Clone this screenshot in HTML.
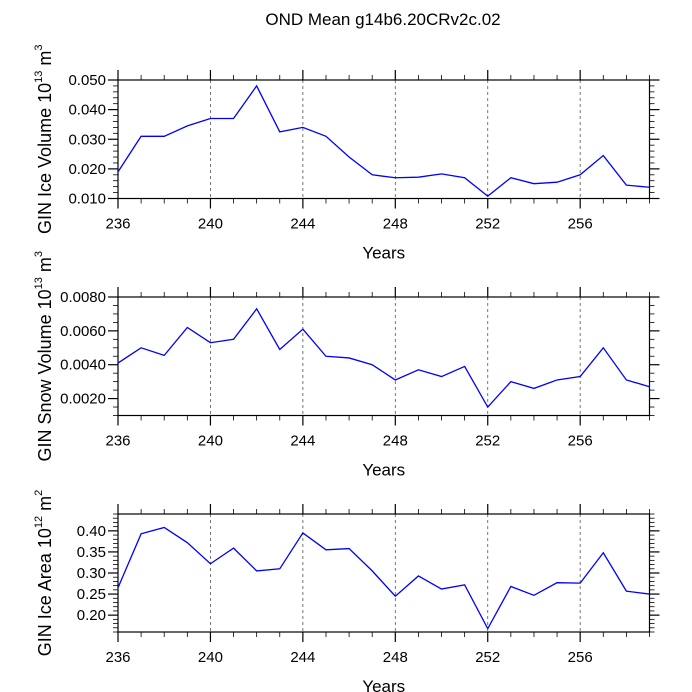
<!DOCTYPE html>
<html><head><meta charset="utf-8"><style>
html,body{margin:0;padding:0;background:#fff;}
svg{display:block;font-family:"Liberation Sans",Arial,sans-serif;}
</style></head><body>
<svg id="chart" width="692" height="692" viewBox="0 0 692 692" xmlns="http://www.w3.org/2000/svg">
<text x="383" y="25" font-size="17" text-anchor="middle">OND Mean g14b6.20CRv2c.02</text>
</svg>
<script>
const years = [236,237,238,239,240,241,242,243,244,245,246,247,248,249,250,251,252,253,254,255,256,257,258,259];
const iceVolume = [0.019,0.031,0.031,0.0345,0.037,0.037,0.048,0.0325,0.034,0.031,0.024,0.018,0.017,0.0172,0.0183,0.017,0.0108,0.017,0.015,0.0155,0.018,0.0245,0.0145,0.0138];
const snowVolume = [0.0041,0.0050,0.00455,0.0062,0.0053,0.0055,0.0073,0.0049,0.0061,0.0045,0.0044,0.0040,0.0031,0.0037,0.0033,0.0039,0.0015,0.0030,0.0026,0.0031,0.0033,0.0050,0.0031,0.0027];
const iceArea = [0.265,0.393,0.408,0.372,0.322,0.359,0.305,0.310,0.395,0.355,0.358,0.305,0.245,0.293,0.262,0.272,0.168,0.268,0.247,0.277,0.276,0.348,0.257,0.250];
const xTickLabels = ["236","240","244","248","252","256"];
const iceVolumeTicks = ["0.010","0.020","0.030","0.040","0.050"];
const snowVolumeTicks = ["0.0020","0.0040","0.0060","0.0080"];
const iceAreaTicks = ["0.20","0.25","0.30","0.35","0.40"];

const NS="http://www.w3.org/2000/svg";
const svg=document.getElementById('chart');
const L=118,R=649.5,X0=236,X1=259;
function xs(v){return L+(v-X0)/(X1-X0)*(R-L);}
function mk(tag,attrs,parent){const e=document.createElementNS(NS,tag);for(const k in attrs)e.setAttribute(k,attrs[k]);(parent||svg).appendChild(e);return e;}

const panels=[
 {key:'ice-volume',top:80,bot:198.5,ymin:0.01,ymax:0.05,minor:0.002,vals:iceVolume,ticks:iceVolumeTicks,t1:"GIN Ice Volume 10",sup:"13",t2:" m",sup2:"3"},
 {key:'snow-volume',top:297,bot:415.5,ymin:0.001,ymax:0.008,minor:0.0005,vals:snowVolume,ticks:snowVolumeTicks,t1:"GIN Snow Volume 10",sup:"13",t2:" m",sup2:"3"},
 {key:'ice-area',top:514,bot:632,ymin:0.16,ymax:0.44,minor:0.01,vals:iceArea,ticks:iceAreaTicks,t1:"GIN Ice Area 10",sup:"12",t2:" m",sup2:"2"}
];

panels.forEach(p=>{
 const g=mk('g',{});
 
 
 const ys=v=>p.bot-(v-p.ymin)/(p.ymax-p.ymin)*(p.bot-p.top);
 for(let y=240;y<=256;y+=4){
  const gl=mk('line',{x1:xs(y),x2:xs(y),y1:p.top,y2:p.bot,stroke:'#555','stroke-width':0.8,'stroke-dasharray':'3,3'},g);
  
  
 }
 for(let y=X0;y<=X1;y++){
  const major=(y-X0)%4===0;
  const len=major?10:5;
  const x=xs(y);
  mk('line',{x1:x,x2:x,y1:p.bot,y2:p.bot+len,stroke:'#000','stroke-width':major?1.2:0.8},g);
  mk('line',{x1:x,x2:x,y1:p.top,y2:p.top-len,stroke:'#000','stroke-width':major?1.2:0.8},g);
 }
 xTickLabels.forEach(t=>{
  const tx=mk('text',{x:xs(+t),y:p.bot+30,'font-size':15,'text-anchor':'middle'},g);
  tx.textContent=t;
  
  
 });
 const n=Math.round((p.ymax-p.ymin)/p.minor);
 const majorVals=p.ticks.map(Number);
 for(let i=0;i<=n;i++){
  const v=p.ymin+i*p.minor;
  const major=majorVals.some(m=>Math.abs(m-v)<p.minor/10);
  const len=major?10:5;
  const y=ys(v);
  mk('line',{x1:L,x2:L-len,y1:y,y2:y,stroke:'#000','stroke-width':major?1.2:0.8},g);
  mk('line',{x1:R,x2:R+len,y1:y,y2:y,stroke:'#000','stroke-width':major?1.2:0.8},g);
 }
 p.ticks.forEach(t=>{
  const tx=mk('text',{x:L-12,y:ys(+t)+5,'font-size':15,'text-anchor':'end'},g);
  tx.textContent=t;
  
  
 });
 const fr=mk('rect',{x:L,y:p.top,width:R-L,height:p.bot-p.top,fill:'none',stroke:'#000','stroke-width':1.2},g);
 
 
 const pts=years.map((y,i)=>xs(y).toFixed(2)+','+ys(p.vals[i]).toFixed(2)).join(' ');
 const pl=mk('polyline',{points:pts,fill:'none',stroke:'#0000ff','stroke-width':1.3},g);
 
 
 const xt=mk('text',{x:(L+R)/2,y:p.bot+60,'font-size':17,'text-anchor':'middle'},g);
 xt.textContent='Years';
 
 
 const cy=(p.top+p.bot)/2;
 const yt=mk('text',{x:0,y:0,'font-size':18,'text-anchor':'middle',transform:`translate(51,${cy}) rotate(-90)`},g);
 
 
 const s1=mk('tspan',{},yt);s1.textContent=p.t1;
 const s2=mk('tspan',{'font-size':11,dy:-9},yt);s2.textContent=p.sup;
 const s3=mk('tspan',{dy:9},yt);s3.textContent=p.t2;
 const s4=mk('tspan',{'font-size':11,dy:-9},yt);s4.textContent=p.sup2;
});
</script>
</body></html>
